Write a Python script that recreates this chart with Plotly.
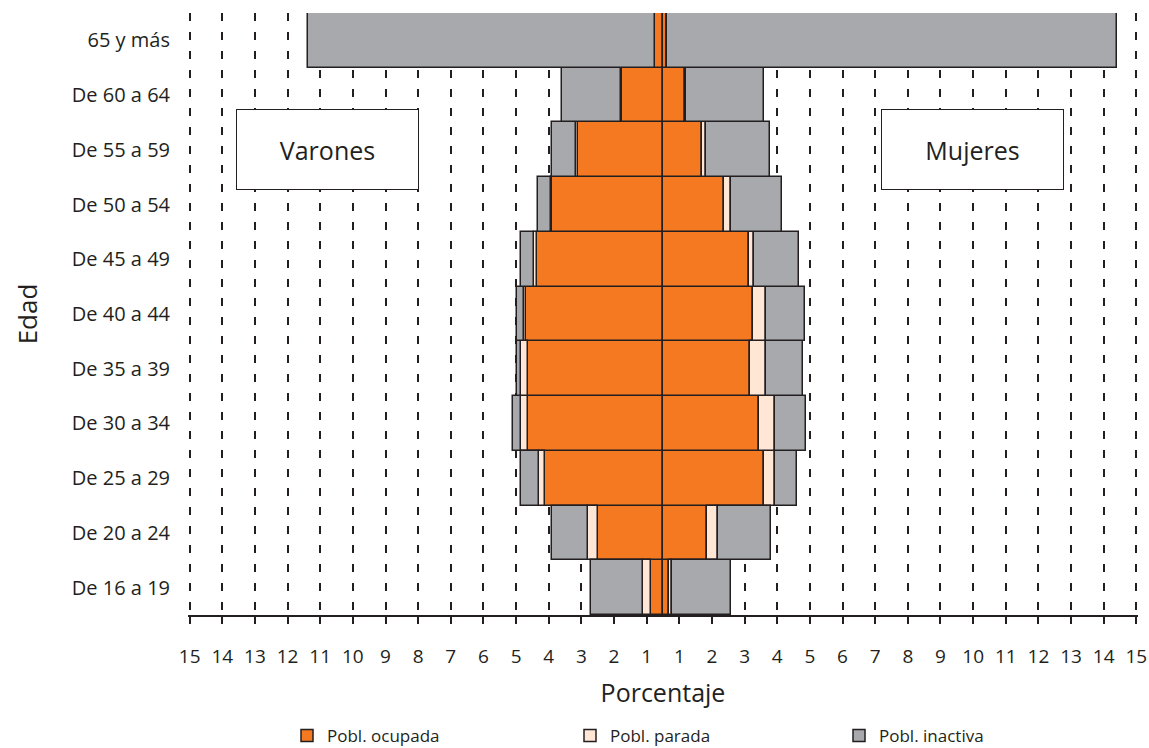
import plotly.graph_objects as go

# Age groups (bottom to top)
ages = ["De 16 a 19", "De 20 a 24", "De 25 a 29", "De 30 a 34", "De 35 a 39",
        "De 40 a 44", "De 45 a 49", "De 50 a 54", "De 55 a 59", "De 60 a 64", "65 y más"]

# Varones (percent of total, plotted to the left)
men_ocupada = [0.38, 2.00, 3.61, 4.14, 4.14, 4.19, 3.87, 3.41, 2.59, 1.27, 0.25]
men_parada = [0.23, 0.29, 0.20, 0.20, 0.20, 0.08, 0.08, 0.02, 0.09, 0.03, 0.01]
men_inactiva = [1.60, 1.12, 0.53, 0.27, 0.13, 0.20, 0.40, 0.39, 0.72, 1.78, 10.60]

# Mujeres (plotted to the right)
wom_ocupada = [0.18, 1.34, 3.09, 2.95, 2.68, 2.77, 2.63, 1.87, 1.20, 0.67, 0.11]
wom_parada = [0.09, 0.34, 0.34, 0.48, 0.47, 0.39, 0.16, 0.21, 0.13, 0.02, 0.01]
wom_inactiva = [1.80, 1.62, 0.66, 0.94, 1.14, 1.20, 1.37, 1.55, 1.96, 2.41, 13.79]

tick_numbers = list(range(1, 16))

names = ["Pobl. ocupada", "Pobl. parada", "Pobl. inactiva"]
colors = ["#F47920", "#FFE6D5", "#A7A9AC"]
legends = ["legend", "legend2", "legend3"]
INK = "#231F20"
FONT = "Open Sans"

fig = go.Figure()
men = [men_ocupada, men_parada, men_inactiva]
wom = [wom_ocupada, wom_parada, wom_inactiva]
for i in range(3):
    fig.add_trace(go.Bar(
        y=ages, x=[-v for v in men[i]], orientation="h", name=names[i],
        marker=dict(color=colors[i], line=dict(color=INK, width=1.5)),
        legendgroup=names[i], legend=legends[i], showlegend=True,
    ))
for i in range(3):
    fig.add_trace(go.Bar(
        y=ages, x=wom[i], orientation="h", name=names[i],
        marker=dict(color=colors[i], line=dict(color=INK, width=1.5)),
        legendgroup=names[i], legend=legends[i], showlegend=False,
    ))

# tick labels sit midway between unit steps, as in the original figure
tickvals = [-(k - 0.5) for k in tick_numbers[::-1]] + [(k - 0.5) for k in tick_numbers]
ticktext = [str(k) for k in tick_numbers[::-1]] + [str(k) for k in tick_numbers]

fig.update_layout(
    width=1149, height=748,
    barmode="relative", bargap=0,
    paper_bgcolor="white", plot_bgcolor="white",
    margin=dict(l=188, r=11, t=13, b=133, autoexpand=False),
    font=dict(family=FONT, color=INK, size=19),
    xaxis=dict(
        range=[-14.55, 14.55], tickvals=tickvals, ticktext=ticktext,
        showgrid=True, gridcolor=INK, gridwidth=1.5, griddash="8px,11px",
        zeroline=True, zerolinecolor=INK, zerolinewidth=2,
        showline=True, linecolor=INK, linewidth=1.5,
        ticks="outside", ticklen=7, tickwidth=1.5, tickcolor=INK,
        ticklabelstandoff=16, tickfont=dict(size=19),
        title=dict(text="Porcentaje", font=dict(size=25), standoff=17),
        automargin=False, fixedrange=True,
    ),
    yaxis=dict(
        categoryorder="array", categoryarray=ages,
        showgrid=False, zeroline=False, showline=False, ticks="",
        ticklabelstandoff=17, tickfont=dict(size=20),
        title=dict(text="Edad", font=dict(size=26), standoff=26),
        automargin=False, fixedrange=True,
    ),
    annotations=[
        dict(text="Varones", x=-10.27, xref="x", y="De 55 a 59", yref="y",
             showarrow=False, width=179, height=77, bordercolor=INK, borderwidth=1,
             bgcolor="white", font=dict(size=25, color=INK)),
        dict(text="Mujeres", x=9.48, xref="x", y="De 55 a 59", yref="y",
             showarrow=False, width=179, height=77, bordercolor=INK, borderwidth=1,
             bgcolor="white", font=dict(size=25, color=INK)),
    ],
)
leg_x = [287, 570, 839]
for key, xpx in zip(legends, leg_x):
    fig.update_layout({key: dict(
        xref="container", yref="container", x=xpx / 1149, y=1 - 736 / 748,
        xanchor="left", yanchor="middle", orientation="h",
        font=dict(size=17, color=INK), bgcolor="rgba(0,0,0,0)",
    )})

fig.write_html("out.html", config={"displayModeBar": False},
               post_script="document.body.style.margin='0';")
